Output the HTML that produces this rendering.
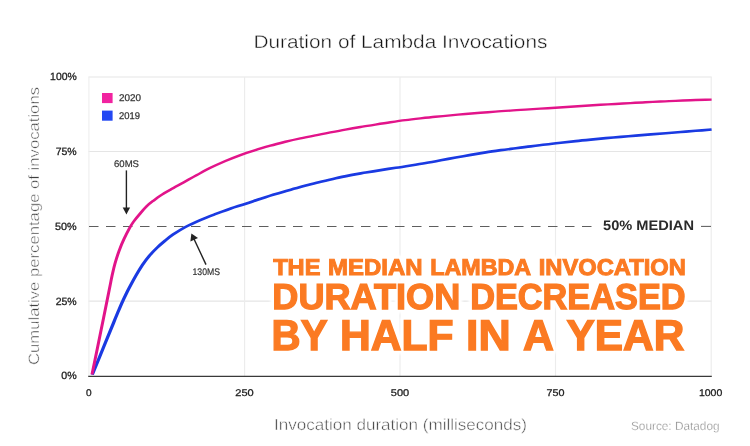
<!DOCTYPE html>
<html>
<head>
<meta charset="utf-8">
<title>Duration of Lambda Invocations</title>
<style>
html,body{margin:0;padding:0;background:#fff;}
body{width:750px;height:446px;overflow:hidden;font-family:"Liberation Sans",sans-serif;}
svg{display:block;opacity:0.9999;}
svg text{font-family:"Liberation Sans",sans-serif;text-rendering:geometricPrecision;}
</style>
</head>
<body>
<svg width="750" height="446" viewBox="0 0 750 446">
  <rect x="0" y="0" width="750" height="446" fill="#ffffff"/>

  <!-- grid -->
  <g stroke="#e5e5e5" stroke-width="1.15" fill="none">
    <line x1="88.4" y1="77" x2="711.7" y2="77"/>
    <line x1="88.4" y1="151.5" x2="711.7" y2="151.5"/>
    <line x1="88.4" y1="301.05" x2="711.7" y2="301.05"/>
    <line x1="88.9" y1="77" x2="88.9" y2="376" stroke="#efefef"/>
    <line x1="244.6" y1="77" x2="244.6" y2="376" stroke="#ececec"/>
    <line x1="400" y1="77" x2="400" y2="376" stroke="#ececec"/>
    <line x1="555.5" y1="77" x2="555.5" y2="376" stroke="#ececec"/>
    <line x1="711.2" y1="77" x2="711.2" y2="376" stroke="#ececec"/>
  </g>

  <!-- dashed median line -->
  <line x1="89" y1="226.4" x2="592" y2="226.4" stroke="#5e5e5e" stroke-width="1.05" stroke-dasharray="9.5 7.5"/>
  <line x1="701" y1="226.4" x2="711" y2="226.4" stroke="#5e5e5e" stroke-width="1.05"/>

  <!-- x axis -->
  <line x1="88.2" y1="376.4" x2="711.8" y2="376.4" stroke="#3a3a3a" stroke-width="1.1"/>

  <!-- title -->
  <text x="253.4" y="48.2" font-size="18.5" fill="#151515" stroke="#fff" stroke-width="0.4" textLength="294" lengthAdjust="spacingAndGlyphs">Duration of Lambda Invocations</text>

  <!-- y tick labels -->
  <g font-size="10.4" fill="#1e1e1e" stroke="#1e1e1e" stroke-width="0.3" text-anchor="end">
    <text transform="translate(76.7,80) scale(1,1.01)" textLength="26.6" lengthAdjust="spacingAndGlyphs">100%</text>
    <text transform="translate(76.7,155) scale(1,1.01)" textLength="21" lengthAdjust="spacingAndGlyphs">75%</text>
    <text transform="translate(76.7,230) scale(1,1.01)" textLength="21.6" lengthAdjust="spacingAndGlyphs">50%</text>
    <text transform="translate(76.7,304.8) scale(1,1.01)" textLength="21" lengthAdjust="spacingAndGlyphs">25%</text>
    <text transform="translate(76.7,379.1) scale(1,1.01)" textLength="15.4" lengthAdjust="spacingAndGlyphs">0%</text>
  </g>

  <!-- x tick labels -->
  <g font-size="10.4" fill="#1e1e1e" stroke="#1e1e1e" stroke-width="0.3" text-anchor="middle">
    <text transform="translate(88.7,396) scale(1,0.93)" textLength="5.6" lengthAdjust="spacingAndGlyphs">0</text>
    <text transform="translate(244.5,396) scale(1,0.93)" textLength="18.4" lengthAdjust="spacingAndGlyphs">250</text>
    <text transform="translate(400,396) scale(1,0.93)" textLength="18.4" lengthAdjust="spacingAndGlyphs">500</text>
    <text transform="translate(555.5,396) scale(1,0.93)" textLength="18" lengthAdjust="spacingAndGlyphs">750</text>
    <text transform="translate(710.6,396) scale(1,0.93)" textLength="23.4" lengthAdjust="spacingAndGlyphs">1000</text>
  </g>

  <!-- axis titles -->
  <text transform="translate(39,365) rotate(-90)" font-size="15" fill="#404040" stroke="#fff" stroke-width="0.5" textLength="278" lengthAdjust="spacingAndGlyphs">Cumulative percentage of invocations</text>
  <text x="274" y="430" font-size="16" fill="#404040" stroke="#fff" stroke-width="0.5" textLength="253" lengthAdjust="spacingAndGlyphs">Invocation duration (milliseconds)</text>
  <text x="631" y="430" font-size="12" fill="#707070" stroke="#fff" stroke-width="0.4" textLength="88.5" lengthAdjust="spacingAndGlyphs">Source: Datadog</text>

  <!-- legend -->
  <rect x="102" y="93" width="10.6" height="10.1" fill="#f123a0"/>
  <rect x="102" y="110.6" width="10.6" height="10.1" fill="#2348f3"/>
  <g font-size="9.8" fill="#333" stroke="#333" stroke-width="0.25">
    <text x="119" y="101.4" textLength="22" lengthAdjust="spacingAndGlyphs">2020</text>
    <text x="119" y="119" textLength="21" lengthAdjust="spacingAndGlyphs">2019</text>
  </g>

  <!-- curves -->
  <g fill="none" stroke-width="2.6" stroke-linecap="butt" stroke-linejoin="round" transform="scale(1,0.8)">
    <path stroke="#1a3ae2" stroke-width="3.3" d="M92.3,468.2 C94.3,462.1 101.0,442.1 104.5,431.2 C108.0,420.4 111.3,410.5 113.6,403.4 C115.9,396.3 117.0,393.1 118.5,388.6 C120.0,384.1 121.2,380.5 122.7,376.5 C124.2,372.5 125.8,368.4 127.2,364.8 C128.7,361.1 129.9,358.3 131.4,354.8 C132.9,351.2 134.6,347.4 136.4,343.5 C138.2,339.6 140.4,335.2 142.5,331.2 C144.6,327.3 146.7,323.6 149.2,320.0 C151.7,316.4 154.6,312.6 157.3,309.4 C160.0,306.1 162.8,303.2 165.4,300.5 C168.0,297.8 169.7,296.0 173.0,293.2 C176.3,290.5 180.4,287.2 185.0,284.1 C189.6,281.1 195.7,277.7 200.8,274.9 C205.9,272.1 210.8,269.8 215.8,267.4 C220.8,265.0 225.8,262.8 230.8,260.6 C235.8,258.5 240.8,256.7 245.8,254.6 C250.8,252.6 255.8,250.4 260.8,248.4 C265.8,246.4 270.8,244.4 275.8,242.6 C280.8,240.7 285.8,238.9 290.8,237.1 C295.8,235.3 300.8,233.6 305.8,231.9 C310.8,230.3 315.8,228.6 320.8,227.1 C325.8,225.6 330.8,224.1 335.8,222.7 C340.8,221.3 345.8,220.1 350.8,218.9 C355.8,217.7 360.8,216.7 365.8,215.6 C370.8,214.5 375.8,213.5 380.8,212.6 C385.8,211.6 390.8,210.7 395.8,209.7 C400.8,208.8 405.8,207.8 410.8,206.8 C415.8,205.8 420.8,204.8 425.8,203.7 C430.8,202.7 435.8,201.5 440.8,200.3 C445.8,199.2 450.8,198.0 455.8,196.9 C460.8,195.8 465.8,194.7 470.8,193.6 C475.8,192.6 480.8,191.5 485.8,190.5 C490.8,189.5 495.8,188.6 500.8,187.7 C505.8,186.8 510.8,186.1 515.8,185.3 C520.8,184.5 525.8,183.7 530.8,183.0 C535.8,182.2 540.8,181.4 545.8,180.7 C550.8,179.9 555.8,179.2 560.8,178.5 C565.8,177.8 570.8,177.1 575.8,176.4 C580.8,175.7 585.8,175.1 590.8,174.5 C595.8,173.9 600.8,173.3 605.8,172.7 C610.8,172.2 615.8,171.6 620.8,171.1 C625.8,170.6 630.8,170.0 635.8,169.5 C640.8,169.0 645.8,168.5 650.8,168.0 C655.8,167.5 660.8,167.0 665.8,166.5 C670.8,166.0 675.8,165.5 680.8,165.0 C685.8,164.5 690.7,164.0 695.8,163.5 C700.9,163.0 709.0,162.2 711.6,161.9"/>
    <path stroke="#e2148a" stroke-width="3.0" d="M92.0,468.2 C93.5,459.3 97.9,432.0 100.8,414.4 C103.7,396.8 107.3,374.1 109.2,362.5 C111.1,350.9 111.0,350.5 112.0,345.0 C113.0,339.5 113.8,334.6 115.0,329.4 C116.2,324.2 117.5,318.9 119.0,313.8 C120.5,308.6 122.2,303.5 124.0,298.8 C125.8,294.0 128.0,288.6 129.6,285.0 C131.2,281.4 131.7,280.3 133.5,277.2 C135.3,274.2 138.0,270.1 140.2,266.9 C142.4,263.6 144.7,260.3 146.9,257.6 C149.1,254.9 151.3,252.9 153.6,250.7 C155.8,248.6 157.7,246.7 160.4,244.5 C163.1,242.3 166.2,240.1 170.0,237.4 C173.8,234.6 179.0,231.2 183.5,228.1 C188.0,225.0 192.4,221.8 196.9,218.8 C201.4,215.7 205.7,212.6 210.4,209.7 C215.2,206.8 220.4,203.9 225.4,201.2 C230.4,198.6 235.4,196.1 240.4,193.8 C245.4,191.6 250.4,189.6 255.4,187.7 C260.4,185.7 265.4,183.9 270.4,182.1 C275.4,180.4 280.4,178.8 285.4,177.2 C290.4,175.7 295.4,174.3 300.4,173.0 C305.4,171.6 310.4,170.4 315.4,169.2 C320.4,167.9 325.4,166.7 330.4,165.5 C335.4,164.3 340.4,163.1 345.4,162.0 C350.4,160.9 355.4,159.8 360.4,158.7 C365.4,157.7 370.4,156.6 375.4,155.7 C380.4,154.7 385.4,153.7 390.4,152.8 C395.4,151.9 400.4,151.0 405.4,150.2 C410.4,149.4 415.4,148.7 420.4,148.0 C425.4,147.3 430.4,146.6 435.4,146.0 C440.4,145.3 445.4,144.7 450.4,144.2 C455.4,143.6 460.4,143.1 465.4,142.5 C470.4,142.0 475.4,141.5 480.4,141.0 C485.4,140.5 490.4,140.1 495.4,139.6 C500.4,139.1 505.4,138.7 510.4,138.3 C515.4,137.8 520.4,137.4 525.4,137.0 C530.4,136.6 535.4,136.2 540.4,135.8 C545.4,135.4 550.4,135.1 555.4,134.7 C560.4,134.3 565.4,133.8 570.4,133.4 C575.4,133.0 580.4,132.6 585.4,132.2 C590.4,131.8 595.4,131.4 600.4,131.0 C605.4,130.7 610.4,130.3 615.4,130.0 C620.4,129.6 625.4,129.3 630.4,128.9 C635.4,128.6 640.4,128.3 645.4,127.9 C650.4,127.6 655.4,127.2 660.4,126.9 C665.4,126.6 670.4,126.3 675.4,126.1 C680.4,125.8 685.4,125.6 690.4,125.3 C695.4,125.1 701.9,124.8 705.4,124.7 C708.9,124.5 710.6,124.5 711.6,124.5"/>
  </g>

  <!-- annotations -->
  <g font-size="9.5" fill="#333" stroke="#333" stroke-width="0.2">
    <text x="114" y="167.4" textLength="25" lengthAdjust="spacingAndGlyphs">60MS</text>
    <text x="192.5" y="275.4" textLength="27.5" lengthAdjust="spacingAndGlyphs">130MS</text>
  </g>
  <g stroke="#222" stroke-width="1.4" fill="#222">
    <line x1="126.4" y1="170.4" x2="126.4" y2="209"/>
    <polygon points="126.4,214.4 122.7,207.6 130.1,207.6" stroke="none"/>
    <line x1="206" y1="264.6" x2="194" y2="239"/>
    <polygon points="191.4,233.4 190.4,241.6 198,238" stroke="none"/>
  </g>

  <!-- 50% median label -->
  <text x="603" y="230.2" font-size="13.8" font-weight="bold" fill="#2a2a2a" textLength="91" lengthAdjust="spacingAndGlyphs">50% MEDIAN</text>

  <!-- headline -->
  <defs><filter id="glow" x="-5%" y="-20%" width="110%" height="140%"><feGaussianBlur stdDeviation="1.2"/></filter></defs>
  <g font-weight="bold" fill="#ffffff" stroke="#ffffff" stroke-width="8.5" stroke-linejoin="round" filter="url(#glow)">
      <text x="273.23" y="275.2" font-size="22.9" textLength="47.17" lengthAdjust="spacingAndGlyphs">THE</text>
      <text x="328.12" y="275.2" font-size="22.9" textLength="94.44" lengthAdjust="spacingAndGlyphs">MEDIAN</text>
      <text x="430.22" y="275.2" font-size="22.9" textLength="100.97" lengthAdjust="spacingAndGlyphs">LAMBDA</text>
      <text x="538.74" y="275.2" font-size="22.9" textLength="147.16" lengthAdjust="spacingAndGlyphs">INVOCATION</text>
      <text x="272.33" y="309.2" font-size="36.0" textLength="187.96" lengthAdjust="spacingAndGlyphs">DURATION</text>
      <text x="470.13" y="309.2" font-size="36.0" textLength="215.44" lengthAdjust="spacingAndGlyphs">DECREASED</text>
      <text x="271.59" y="349.5" font-size="43.1" textLength="55.98" lengthAdjust="spacingAndGlyphs">BY</text>
      <text x="340.00" y="349.5" font-size="43.1" textLength="113.61" lengthAdjust="spacingAndGlyphs">HALF</text>
      <text x="466.00" y="349.5" font-size="43.1" textLength="44.65" lengthAdjust="spacingAndGlyphs">IN</text>
      <text x="522.99" y="349.5" font-size="43.1" textLength="30.88" lengthAdjust="spacingAndGlyphs">A</text>
      <text x="566.55" y="349.5" font-size="43.1" textLength="117.76" lengthAdjust="spacingAndGlyphs">YEAR</text>
  </g>
  <g font-weight="bold" fill="#fb7a22" stroke="#fb7a22" stroke-linejoin="miter">
      <g stroke-width="1.0"><text x="273.23" y="275.2" font-size="22.9" textLength="47.17" lengthAdjust="spacingAndGlyphs">THE</text>
      <text x="328.12" y="275.2" font-size="22.9" textLength="94.44" lengthAdjust="spacingAndGlyphs">MEDIAN</text>
      <text x="430.22" y="275.2" font-size="22.9" textLength="100.97" lengthAdjust="spacingAndGlyphs">LAMBDA</text>
      <text x="538.74" y="275.2" font-size="22.9" textLength="147.16" lengthAdjust="spacingAndGlyphs">INVOCATION</text></g>
      <g stroke-width="1.3"><text x="272.33" y="309.2" font-size="36.0" textLength="187.96" lengthAdjust="spacingAndGlyphs">DURATION</text>
      <text x="470.13" y="309.2" font-size="36.0" textLength="215.44" lengthAdjust="spacingAndGlyphs">DECREASED</text></g>
      <g stroke-width="1.4"><text x="271.59" y="349.5" font-size="43.1" textLength="55.98" lengthAdjust="spacingAndGlyphs">BY</text>
      <text x="340.00" y="349.5" font-size="43.1" textLength="113.61" lengthAdjust="spacingAndGlyphs">HALF</text>
      <text x="466.00" y="349.5" font-size="43.1" textLength="44.65" lengthAdjust="spacingAndGlyphs">IN</text>
      <text x="522.99" y="349.5" font-size="43.1" textLength="30.88" lengthAdjust="spacingAndGlyphs">A</text>
      <text x="566.55" y="349.5" font-size="43.1" textLength="117.76" lengthAdjust="spacingAndGlyphs">YEAR</text></g>
  </g>
</svg>
</body>
</html>
